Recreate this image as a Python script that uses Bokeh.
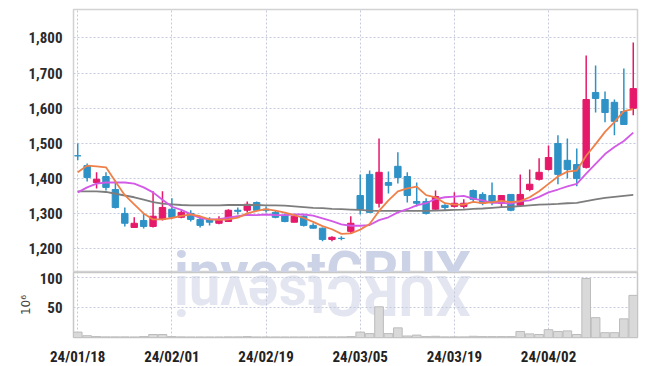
import math
from bokeh.plotting import figure
from bokeh.layouts import column
from bokeh.models import FixedTicker, NumeralTickFormatter, Label, ColumnDataSource, Range1d
from bokeh.core.properties import value
from bokeh.embed import file_html
from bokeh.resources import INLINE

# ---------------- data ----------------
dates = ["24/01/18", "24/01/19", "24/01/22", "24/01/23", "24/01/24", "24/01/25", "24/01/26", "24/01/29", "24/01/30", "24/01/31",
         "24/02/01", "24/02/02", "24/02/05", "24/02/06", "24/02/07", "24/02/08", "24/02/13", "24/02/14", "24/02/15", "24/02/16",
         "24/02/19", "24/02/20", "24/02/21", "24/02/22", "24/02/23", "24/02/26", "24/02/27", "24/02/28", "24/02/29", "24/03/04",
         "24/03/05", "24/03/06", "24/03/07", "24/03/08", "24/03/11", "24/03/12", "24/03/13", "24/03/14", "24/03/15", "24/03/18",
         "24/03/19", "24/03/20", "24/03/21", "24/03/22", "24/03/25", "24/03/26", "24/03/27", "24/03/28", "24/03/29", "24/04/01",
         "24/04/02", "24/04/03", "24/04/04", "24/04/05", "24/04/08", "24/04/09", "24/04/11", "24/04/12", "24/04/15", "24/04/16"]

opens = [1465, 1437, 1389, 1406, 1369, 1301, 1261, 1281, 1264, 1284,
         1313, 1290, 1301, 1284, 1284, 1273, 1278, 1310, 1310, 1332,
         1313, 1304, 1296, 1276, 1293, 1267, 1259, 1227, 1230, 1250,
         1352, 1412, 1330, 1389, 1435, 1406, 1335, 1335, 1313, 1324,
         1321, 1321, 1366, 1355, 1352, 1330, 1355, 1324, 1369, 1398,
         1426, 1500, 1452, 1440, 1432, 1645, 1625, 1617, 1591, 1600]
highs = [1500, 1443, 1418, 1418, 1395, 1318, 1290, 1301, 1364, 1364,
         1344, 1310, 1310, 1290, 1290, 1293, 1313, 1318, 1335, 1335,
         1321, 1310, 1301, 1293, 1296, 1273, 1261, 1236, 1236, 1293,
         1412, 1423, 1514, 1420, 1475, 1418, 1389, 1344, 1366, 1327,
         1361, 1341, 1369, 1361, 1389, 1352, 1355, 1412, 1426, 1458,
         1494, 1523, 1514, 1486, 1750, 1722, 1648, 1625, 1713, 1787]
lows = [1452, 1392, 1372, 1366, 1315, 1264, 1261, 1258, 1261, 1281,
        1287, 1287, 1278, 1261, 1267, 1270, 1278, 1298, 1304, 1307,
        1304, 1287, 1276, 1276, 1264, 1258, 1222, 1222, 1225, 1244,
        1298, 1304, 1318, 1358, 1386, 1332, 1321, 1298, 1310, 1310,
        1318, 1315, 1332, 1324, 1324, 1318, 1307, 1321, 1364, 1395,
        1423, 1384, 1400, 1378, 1429, 1588, 1560, 1523, 1554, 1580]
closes = [1465, 1403, 1398, 1375, 1318, 1273, 1273, 1264, 1293, 1318,
          1290, 1304, 1284, 1267, 1276, 1284, 1310, 1307, 1327, 1310,
          1310, 1290, 1278, 1293, 1267, 1259, 1227, 1233, 1230, 1273,
          1313, 1304, 1418, 1381, 1403, 1352, 1330, 1301, 1349, 1318,
          1330, 1330, 1341, 1330, 1332, 1352, 1310, 1355, 1384, 1418,
          1460, 1412, 1426, 1400, 1625, 1628, 1588, 1563, 1554, 1656]
volume = [9, 3, 1.5, 1, 1, 1, 0.8, 1.5, 5, 5,
          1.5, 1, 0.8, 0.8, 0.8, 0.8, 1, 1, 1.5, 0.8,
          0.8, 0.8, 0.8, 0.8, 0.8, 0.8, 1, 1, 1, 1.5,
          9, 6.5, 51, 6.5, 16, 2.5, 4, 1.5, 2, 1,
          1, 1, 2, 1.5, 1.5, 1.5, 1.5, 10, 6, 5,
          13, 10, 11, 5, 98, 33, 8, 8, 31, 70]
ma5 = [1418, 1437, 1435, 1432, 1392, 1353, 1327, 1301, 1284, 1284,
       1288, 1294, 1298, 1293, 1284, 1283, 1284, 1289, 1301, 1308,
       1313, 1309, 1303, 1296, 1288, 1277, 1265, 1256, 1243, 1244,
       1255, 1271, 1308, 1338, 1364, 1372, 1377, 1353, 1347, 1330,
       1326, 1326, 1334, 1330, 1333, 1337, 1333, 1336, 1347, 1364,
       1385, 1406, 1420, 1423, 1465, 1498, 1533, 1561, 1592, 1598]
ma10 = [1361, 1375, 1386, 1389, 1389, 1389, 1386, 1375, 1361, 1340,
        1320, 1311, 1299, 1288, 1284, 1285, 1289, 1293, 1297, 1296,
        1298, 1296, 1296, 1298, 1298, 1295, 1287, 1279, 1270, 1266,
        1266, 1268, 1282, 1290, 1304, 1313, 1324, 1330, 1342, 1347,
        1349, 1351, 1343, 1338, 1331, 1331, 1329, 1335, 1338, 1348,
        1361, 1369, 1378, 1385, 1414, 1442, 1470, 1490, 1507, 1531]
ma_long = [1364, 1364, 1364, 1362, 1357, 1352, 1347, 1340, 1333, 1329,
           1327, 1325, 1324, 1324, 1324, 1324, 1325, 1325, 1325, 1325,
           1324, 1324, 1323, 1321, 1319, 1317, 1316, 1314, 1313, 1312,
           1311, 1309, 1308, 1308, 1308, 1308, 1308, 1308, 1309, 1310,
           1311, 1312, 1314, 1315, 1317, 1319, 1320, 1322, 1324, 1326,
           1327, 1328, 1330, 1331, 1336, 1341, 1345, 1348, 1351, 1354]
price_ticks = [1200, 1300, 1400, 1500, 1600, 1700, 1800]
volume_ticks = [50, 100]
label_every = 10
watermark = "investCRUX"

# ---------------- styling ----------------
RED = "#e5196a"
BLUE = "#2f92c6"
FONT = "'Roboto Condensed', 'DejaVu Sans Condensed', Roboto"
WFONT = "Roboto"
GRID = "#c4c9dc"

n = len(dates)
xs = list(range(n))
colors = [RED if c > o else BLUE for o, c in zip(opens, closes)]
src = ColumnDataSource(dict(
    x=xs, o=opens, h=highs, l=lows, c=closes,
    top=[max(o, c) for o, c in zip(opens, closes)],
    bot=[min(o, c) for o, c in zip(opens, closes)],
    color=colors, vol=volume, ma5=ma5, ma10=ma10, mal=ma_long))

x_range = Range1d(-0.45, n - 0.55)
tick_idx = list(range(0, n, label_every))
wm_x = 26.0

p = figure(frame_width=564, frame_height=263, x_range=x_range, y_range=Range1d(1133, 1881),
           output_backend="svg", toolbar_location=None, x_axis_location=None,
           min_border_left=73, min_border_right=2, min_border_top=9, min_border_bottom=0,
           background_fill_color="white", border_fill_color="white")
p.outline_line_color = "#d2d2d2"
p.outline_line_width = 1.5

p.yaxis.ticker = FixedTicker(ticks=price_ticks)
p.yaxis.formatter = NumeralTickFormatter(format="0,0")
p.yaxis.axis_line_color = None
p.yaxis.major_tick_line_color = None
p.yaxis.minor_tick_line_color = None
p.yaxis.major_label_standoff = 5
p.yaxis.major_label_text_font = FONT
p.yaxis.major_label_text_font_size = "15px"
p.yaxis.major_label_text_font_style = "bold"
p.yaxis.major_label_text_color = "#2b2b2b"

p.xgrid.ticker = FixedTicker(ticks=tick_idx)
for g in (p.xgrid, p.ygrid):
    g.grid_line_color = GRID
    g.grid_line_dash = "2 2"
    g.grid_line_width = 1

p.add_layout(Label(x=wm_x, y=1134, text=watermark, text_font=WFONT, text_font_size="56px",
                   text_font_style="bold", text_color="#cdd3e7", text_align="center",
                   text_baseline="alphabetic", level="underlay"))

p.segment(x0="x", y0="h", x1="x", y1="l", line_color="color", line_width=1.5, source=src)
p.vbar(x="x", width=0.68, top="top", bottom="bot", fill_color="color", line_color="color",
       line_width=1, source=src)
p.line(x="x", y="mal", line_color="#7d7d7d", line_width=1.8, source=src)
p.line(x="x", y="ma10", line_color="#d25ae6", line_width=1.8, source=src)
p.line(x="x", y="ma5", line_color="#ef8049", line_width=1.8, source=src)

v = figure(frame_width=564, frame_height=65, x_range=x_range, y_range=Range1d(0, 108),
           output_backend="svg", toolbar_location=None,
           min_border_left=73, min_border_right=2, min_border_top=0, min_border_bottom=2,
           background_fill_color="white", border_fill_color="white")
v.outline_line_color = "#c8c8c8"
v.outline_line_width = 1.5

v.yaxis.ticker = FixedTicker(ticks=volume_ticks)
v.yaxis.axis_line_color = None
v.yaxis.major_tick_line_color = None
v.yaxis.minor_tick_line_color = None
v.yaxis.major_label_standoff = 5
v.yaxis.major_label_text_font = FONT
v.yaxis.major_label_text_font_size = "15px"
v.yaxis.major_label_text_font_style = "bold"
v.yaxis.major_label_text_color = "#2b2b2b"
v.yaxis.axis_label = "10\u2076"
v.yaxis.axis_label_text_font = "DejaVu Sans"
v.yaxis.axis_label_text_font_size = "12px"
v.yaxis.axis_label_text_font_style = "normal"
v.yaxis.axis_label_text_color = "#444444"
v.yaxis.axis_label_standoff = 4

v.xaxis.ticker = FixedTicker(ticks=tick_idx)
v.xaxis.major_label_overrides = {i: dates[i] for i in tick_idx}
v.xaxis.axis_line_color = None
v.xaxis.major_tick_line_color = None
v.xaxis.minor_tick_line_color = None
v.xaxis.major_label_standoff = 4
v.xaxis.major_label_text_font = FONT
v.xaxis.major_label_text_font_size = "15px"
v.xaxis.major_label_text_font_style = "bold"
v.xaxis.major_label_text_color = "#222222"

v.xgrid.ticker = FixedTicker(ticks=tick_idx)
for g in (v.xgrid, v.ygrid):
    g.grid_line_color = GRID
    g.grid_line_dash = "2 2"
    g.grid_line_width = 1

# mirrored watermark: reversed letters turned a half-turn = vertical reflection
v.text(x=[wm_x], y=[70], text=[watermark[::-1]], angle=math.pi, text_font=value(WFONT),
       text_font_size="56px", text_font_style="bold", text_color="#e3e6f0",
       text_align="center", text_baseline="middle", level="underlay")

v.vbar(x="x", width=0.92, top="vol", bottom=0, fill_color="#d9d9d9", line_color="#bcbcbc",
       line_width=1, source=src)

layout = column(p, v, spacing=0)
open("out.html", "w").write(file_html(layout, INLINE))
